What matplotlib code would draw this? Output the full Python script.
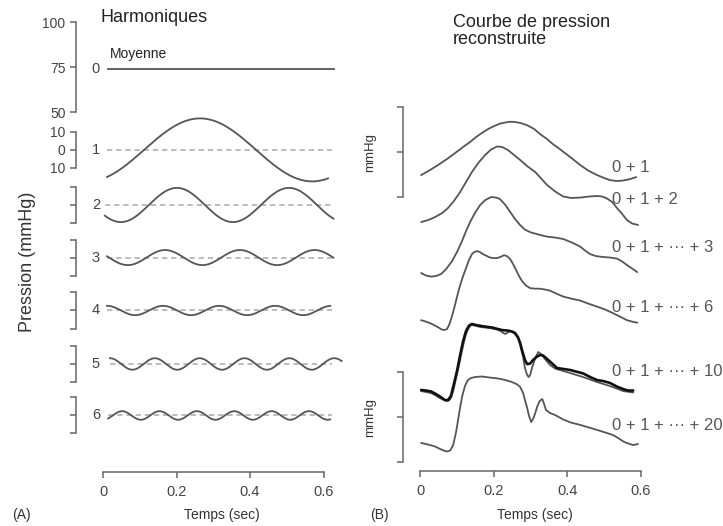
import numpy as np
import matplotlib
matplotlib.use("Agg")
import matplotlib.pyplot as plt

plt.rcParams['font.family'] = ['Liberation Sans', 'DejaVu Sans']

# ---------------- Panel A data (harmonics) ----------------
period = 0.61                      # s, one heart beat
mean_pressure = 74.0               # mmHg (harmonic 0)
mean_t = [0.014, 0.628]
harm_order = [1, 2, 3, 4, 5, 6]
harm_amp = [17.5, 9.5, 4.2, 2.6, 3.2, 2.4]          # mmHg
harm_peak = [0.264, 0.201, 0.169, 0.011, 0.141, 0.052]  # time of a crest (s)
harm_t0 = [0.011, 0.005, 0.011, 0.011, 0.019, 0.014]
harm_t1 = [0.612, 0.627, 0.627, 0.618, 0.649, 0.618]
row0_ticks = [50, 75, 100]
row1_ticks = [-10, 0, 10]
row1_ticklabels = ["10", "0", "10"]
x_ticks = [0, 0.2, 0.4, 0.6]
x_ticklabels = ["0", "0.2", "0.4", "0.6"]

# ---------------- Panel B data (reconstructed pressure, mmHg) ----------------
c1_t = [0.003, 0.027, 0.049, 0.073, 0.095, 0.117, 0.136, 0.152, 0.168, 0.185,
        0.201, 0.217, 0.231, 0.242, 0.255, 0.274, 0.293, 0.310, 0.326, 0.345,
        0.361, 0.378, 0.394, 0.413, 0.435, 0.457, 0.481, 0.500, 0.516, 0.535,
        0.552, 0.571, 0.587]
c1_p = [62.2, 65.0, 67.8, 71.1, 74.4, 77.8, 80.6, 83.3, 85.6, 87.8,
        89.4, 90.8, 91.4, 91.8, 91.8, 91.1, 89.7, 87.8, 85.0, 82.2,
        79.4, 76.9, 74.4, 71.4, 67.8, 64.7, 62.2, 60.6, 59.4, 58.9,
        59.2, 60.0, 61.1]

c2_t = [0.003, 0.022, 0.041, 0.060, 0.076, 0.092, 0.109, 0.125, 0.141, 0.158,
        0.177, 0.193, 0.209, 0.223, 0.239, 0.255, 0.272, 0.291, 0.313, 0.329,
        0.345, 0.367, 0.389, 0.410, 0.435, 0.459, 0.481, 0.495, 0.508, 0.522,
        0.535, 0.549, 0.562, 0.576, 0.592]
c2_p = [53.3, 54.4, 56.1, 58.3, 61.1, 65.0, 70.0, 75.6, 81.1, 86.1,
        90.6, 93.6, 95.3, 95.0, 93.3, 90.6, 87.8, 84.4, 81.1, 77.5,
        73.9, 70.3, 67.5, 66.7, 66.9, 67.5, 67.8, 67.5, 66.4, 64.4,
        61.1, 57.8, 54.4, 52.5, 51.7]

c3_t = [0.003, 0.016, 0.030, 0.043, 0.057, 0.071, 0.087, 0.101, 0.114, 0.125,
        0.136, 0.149, 0.163, 0.177, 0.193, 0.207, 0.217, 0.231, 0.245, 0.258,
        0.272, 0.285, 0.299, 0.321, 0.345, 0.367, 0.389, 0.413, 0.435, 0.448,
        0.462, 0.478, 0.497, 0.516, 0.535, 0.549, 0.562, 0.576, 0.590]
c3_p = [56.7, 55.3, 54.7, 55.0, 56.1, 58.9, 63.3, 68.6, 74.4, 80.0,
        85.0, 90.0, 94.4, 97.2, 98.9, 98.6, 97.8, 94.7, 90.6, 86.7,
        83.3, 80.8, 79.4, 78.1, 76.9, 76.4, 75.6, 73.6, 71.4, 69.2,
        67.2, 66.1, 65.6, 65.3, 64.7, 63.1, 61.1, 59.2, 57.2]

c6_t = [0.003, 0.016, 0.030, 0.049, 0.057, 0.065, 0.073, 0.079, 0.087, 0.095,
        0.101, 0.109, 0.117, 0.125, 0.133, 0.141, 0.147, 0.155, 0.163, 0.171,
        0.182, 0.190, 0.198, 0.209, 0.217, 0.228, 0.236, 0.245, 0.253, 0.261,
        0.269, 0.277, 0.288, 0.299, 0.313, 0.326, 0.340, 0.353, 0.370, 0.389,
        0.410, 0.435, 0.457, 0.481, 0.503, 0.524, 0.543, 0.562, 0.576, 0.590]
c6_p = [58.3, 57.5, 56.4, 54.4, 53.3, 52.8, 53.3, 55.6, 60.6, 66.7,
        71.7, 77.8, 82.8, 87.2, 91.7, 95.0, 96.1, 96.7, 96.1, 95.0,
        93.9, 93.1, 92.8, 92.8, 93.3, 94.4, 93.9, 92.2, 89.4, 86.1,
        82.8, 80.0, 77.5, 76.1, 75.8, 75.8, 75.3, 74.7, 73.1, 71.4,
        70.3, 69.2, 67.5, 65.8, 64.2, 62.2, 60.3, 58.3, 57.5, 56.9]

c10_t = [0.003, 0.016, 0.030, 0.043, 0.054, 0.071, 0.079, 0.084, 0.091, 0.098,
         0.105, 0.111, 0.118, 0.125, 0.132, 0.139, 0.149, 0.163, 0.190, 0.209,
         0.217, 0.226, 0.231, 0.236, 0.245, 0.253, 0.258, 0.266, 0.272, 0.280,
         0.285, 0.291, 0.295, 0.299, 0.304, 0.313, 0.321, 0.329, 0.337, 0.353,
         0.367, 0.380, 0.408, 0.443, 0.481, 0.516, 0.552, 0.579]
c10_p = [63.3, 62.8, 62.2, 60.8, 59.4, 57.8, 58.1, 59.4, 63.9, 70.6,
         76.7, 82.8, 89.4, 95.0, 98.3, 100.0, 99.7, 98.9, 98.3, 97.5,
         96.9, 95.6, 95.0, 95.6, 96.7, 95.8, 95.0, 92.8, 88.9, 82.2,
         76.1, 72.2, 71.1, 72.2, 76.1, 81.7, 85.0, 83.9, 81.7, 77.8,
         75.8, 75.0, 73.3, 71.1, 68.3, 66.1, 63.3, 62.5]

measured_t = [0.003, 0.016, 0.030, 0.043, 0.054, 0.068, 0.076, 0.084, 0.092, 0.101,
              0.109, 0.117, 0.125, 0.133, 0.141, 0.152, 0.168, 0.196, 0.223, 0.239,
              0.250, 0.258, 0.266, 0.272, 0.277, 0.285, 0.291, 0.299, 0.307, 0.318,
              0.326, 0.334, 0.342, 0.353, 0.372, 0.389, 0.408, 0.443, 0.462, 0.481,
              0.497, 0.516, 0.535, 0.552, 0.565, 0.579]
measured_p = [63.9, 63.6, 63.1, 61.7, 60.3, 58.3, 58.3, 60.6, 67.2, 75.0,
              83.3, 91.1, 96.7, 99.7, 100.6, 100.0, 99.4, 98.6, 97.2, 96.9,
              96.4, 95.6, 93.3, 90.0, 86.1, 80.6, 78.3, 78.6, 80.6, 82.5,
              83.3, 83.1, 81.7, 79.7, 76.1, 75.6, 75.0, 73.1, 71.1, 69.4,
              68.9, 67.8, 65.8, 64.4, 63.6, 63.6]

c20_t = [0.003, 0.022, 0.041, 0.060, 0.073, 0.082, 0.090, 0.098, 0.106, 0.114,
         0.122, 0.130, 0.139, 0.149, 0.168, 0.190, 0.212, 0.231, 0.250, 0.264,
         0.272, 0.280, 0.285, 0.291, 0.296, 0.302, 0.307, 0.313, 0.318, 0.325,
         0.332, 0.337, 0.342, 0.353, 0.367, 0.389, 0.410, 0.435, 0.481, 0.503,
         0.524, 0.538, 0.552, 0.565, 0.579, 0.592]
c20_p = [60.6, 59.7, 58.6, 56.7, 55.8, 56.4, 59.4, 66.7, 76.7, 86.1,
         92.2, 95.6, 96.7, 97.2, 97.5, 96.9, 96.4, 95.6, 94.4, 93.1,
         91.7, 88.3, 84.4, 80.0, 75.6, 72.2, 73.9, 77.2, 80.6, 83.9,
         85.0, 82.2, 78.9, 77.2, 76.1, 73.6, 71.9, 70.6, 67.8, 66.4,
         65.0, 63.3, 61.4, 60.3, 59.4, 60.0]

recon_labels = ["0 + 1", "0 + 1 + 2", "0 + 1 + \u00b7\u00b7\u00b7 + 3", "0 + 1 + \u00b7\u00b7\u00b7 + 6",
                "0 + 1 + \u00b7\u00b7\u00b7 + 10", "0 + 1 + \u00b7\u00b7\u00b7 + 20"]

# ---------------- layout ----------------
W, H = 723, 526
fig = plt.figure(figsize=(W / 100, H / 100), dpi=100)


def px_rect(l, t, r, b):
    return [l / W, 1 - b / H, (r - l) / W, (b - t) / H]


curve_col = '#555555'
axis_col = '#666666'
txt_col = '#444444'
dash_col = '#aaaaaa'

# stacking offsets (layout only)
rowA_offset = [29.2, -1.4, -30.6, -60.0, -89.7, -118.3]
B_offset = [0.0, -17.2, -48.9, -76.7, -121.1, -147.2]


def style_axis(ax):
    ax.patch.set_visible(False)
    for s in ['top', 'right']:
        ax.spines[s].set_visible(False)
    for s in ['left', 'bottom']:
        ax.spines[s].set_color(axis_col)
        ax.spines[s].set_linewidth(1.1)
    ax.tick_params(direction='out', length=4.5, width=1.1, colors=axis_col,
                   labelcolor=txt_col, labelsize=10, pad=3)


# ---- Panel A main axes (row 0 and time axis) ----
axA = fig.add_axes(px_rect(76, 10, 350, 472))
A_xlim = (-0.0735, 0.672)
A_ylim = (-149.7, 106.9)
axA.set_xlim(*A_xlim)
axA.set_ylim(*A_ylim)
style_axis(axA)
axA.spines['left'].set_bounds(row0_ticks[0], row0_ticks[-1])
axA.spines['bottom'].set_bounds(x_ticks[0], x_ticks[-1])
axA.set_yticks(row0_ticks)
axA.set_yticklabels([str(v) for v in row0_ticks])
axA.set_xticks(x_ticks)
axA.set_xticklabels(x_ticklabels, fontsize=10.5)
axA.tick_params(axis='x', pad=5)
axA.plot(mean_t, [mean_pressure, mean_pressure], color=curve_col, lw=1.3)
axA.text(-0.008, mean_pressure, "0", ha='right', va='center', fontsize=10.5, color=txt_col)
axA.text(0.019, 82.5, "Moyenne", ha='left', va='center', fontsize=10, color='#222222')
axA.set_ylabel("Pression (mmHg)", fontsize=13, color='#333333', va='center')
axA.yaxis.set_label_coords(-0.177, 0.4545)
axA.set_xlabel("Temps (sec)", fontsize=10, color='#333333', va='center')
axA.xaxis.set_label_coords(0.533, -0.093)

for k in range(len(harm_order)):
    off = rowA_offset[k]
    a = fig.add_axes(px_rect(76, 10, 350, 472), label=f"row{k + 1}")
    a.set_xlim(*A_xlim)
    a.set_ylim(A_ylim[0] - off, A_ylim[1] - off)
    style_axis(a)
    a.spines['bottom'].set_visible(False)
    a.spines['left'].set_bounds(-10, 10)
    a.set_xticks([])
    a.set_yticks(row1_ticks)
    if k == 0:
        a.set_yticklabels(row1_ticklabels)
    else:
        a.set_yticklabels([])
    t = np.linspace(harm_t0[k], harm_t1[k], 400)
    y = harm_amp[k] * np.cos(2 * np.pi * harm_order[k] * (t - harm_peak[k]) / period)
    a.plot([harm_t0[k], 0.622], [0, 0], color=dash_col, lw=1.1, ls=(0, (3.5, 2.5)))
    a.plot(t, y, color=curve_col, lw=1.3)
    a.text(-0.008, 0, str(harm_order[k]), ha='right', va='center', fontsize=10.5, color=txt_col)

# ---- Panel B ----
axB = fig.add_axes(px_rect(403, 95, 645, 471))
B_xlim = (-0.0462, 0.611)
B_ylim = (-102.2, 106.7)
axB.set_xlim(*B_xlim)
axB.set_ylim(*B_ylim)
style_axis(axB)
axB.spines['left'].set_bounds(row0_ticks[0], row0_ticks[-1])
axB.spines['bottom'].set_bounds(x_ticks[0], x_ticks[-1])
axB.set_yticks(row0_ticks)
axB.set_yticklabels([])
axB.set_xticks(x_ticks)
axB.set_xticklabels(x_ticklabels, fontsize=10.5)
axB.tick_params(axis='x', pad=5)
axB.set_ylabel("mmHg", fontsize=9.5, color='#333333', va='center')
axB.yaxis.set_label_coords(-0.136, 0.848)
axB.set_xlabel("Temps (sec)", fontsize=10, color='#333333', va='center')
axB.xaxis.set_label_coords(0.545, -0.117)

axB2 = fig.add_axes(px_rect(403, 95, 645, 471), label="lowbracket")
axB2.set_xlim(*B_xlim)
axB2.set_ylim(B_ylim[0] - B_offset[5], B_ylim[1] - B_offset[5])
style_axis(axB2)
axB2.spines['bottom'].set_visible(False)
axB2.spines['left'].set_bounds(row0_ticks[0], row0_ticks[-1])
axB2.set_xticks([])
axB2.set_yticks(row0_ticks)
axB2.set_yticklabels([])
axB2.set_ylabel("mmHg", fontsize=9.5, color='#333333', va='center')
axB2.yaxis.set_label_coords(-0.136, 0.1436)

curves = [(c1_t, c1_p), (c2_t, c2_p), (c3_t, c3_p), (c6_t, c6_p), (c10_t, c10_p), (c20_t, c20_p)]
for i, (tt, pp) in enumerate(curves):
    axB.plot(tt, np.array(pp) + B_offset[i], color=curve_col, lw=1.3,
             solid_joinstyle='round', solid_capstyle='round')
axB.plot(measured_t, np.array(measured_p) + B_offset[4], color='#111111', lw=1.9,
         solid_joinstyle='round', solid_capstyle='round')

label_y = [167, 200, 247, 308, 372, 425]
for lab, ly in zip(recon_labels, label_y):
    fig.text(612 / W, 1 - ly / H, lab, ha='left', va='center', fontsize=12, color='#555555')

# titles and panel letters
fig.text(100 / W, 1 - 18 / H, "Harmoniques", ha='left', va='center', fontsize=13, color='#222222')
fig.text(453 / W, 1 - 31 / H, "Courbe de pression\nreconstruite", ha='left', va='center',
         fontsize=13, color='#222222', linespacing=1.05)
fig.text(12 / W, 1 - 515 / H, "(A)", ha='left', va='center', fontsize=10, color='#333333')
fig.text(370 / W, 1 - 515 / H, "(B)", ha='left', va='center', fontsize=10, color='#333333')

fig.savefig("out.png", dpi=100)
